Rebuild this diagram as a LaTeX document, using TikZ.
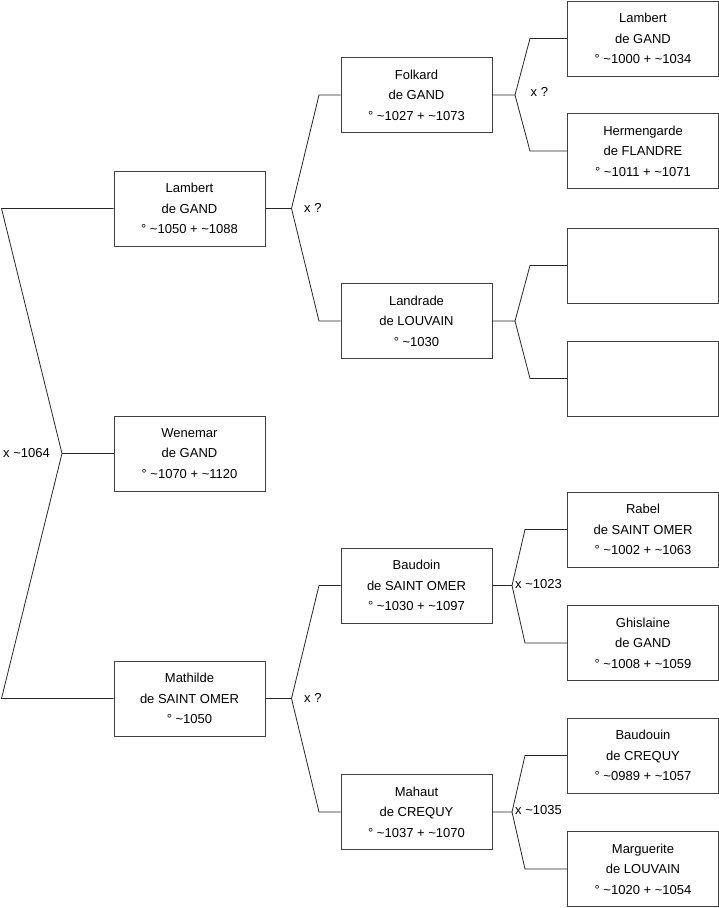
\documentclass[tikz,border=0pt]{standalone}
\usepackage{fontspec}
\setmainfont{Liberation Sans}
\begin{document}
\begin{tikzpicture}[x=1pt,y=-1pt,
  person/.style={draw=black!75,line width=0.8pt,minimum width=151pt,minimum height=75pt,
    align=center,inner sep=0pt,font=\fontsize{13}{20.5}\selectfont},
  link/.style={draw=black!85,line width=0.8pt},
  lbl/.style={anchor=west,inner sep=0pt,font=\fontsize{13}{15}\selectfont}]
\useasboundingbox (0,0) rectangle (719,908);
% column 1
\node[person] (lg) at (189.5,208.5) {Lambert\\de GAND\\° \textasciitilde1050 + \textasciitilde1088};
\node[person] (wg) at (189.5,453.5) {Wenemar\\de GAND\\° \textasciitilde1070 + \textasciitilde1120};
\node[person] (ms) at (189.5,698.5) {Mathilde\\de SAINT OMER\\° \textasciitilde1050};
% column 2
\node[person] (fg) at (416.5,95) {Folkard\\de GAND\\° \textasciitilde1027 + \textasciitilde1073};
\node[person] (ll) at (416.5,321) {Landrade\\de LOUVAIN\\° \textasciitilde1030};
\node[person] (bs) at (416.5,585.5) {Baudoin\\de SAINT OMER\\° \textasciitilde1030 + \textasciitilde1097};
\node[person] (mc) at (416.5,812) {Mahaut\\de CREQUY\\° \textasciitilde1037 + \textasciitilde1070};
% column 3
\node[person] (lg2) at (643,38.5) {Lambert\\de GAND\\° \textasciitilde1000 + \textasciitilde1034};
\node[person] (hf) at (643,151) {Hermengarde\\de FLANDRE\\° \textasciitilde1011 + \textasciitilde1071};
\node[person] (e1) at (643,265.5) {};
\node[person] (e2) at (643,378.5) {};
\node[person] (rs) at (643,529.5) {Rabel\\de SAINT OMER\\° \textasciitilde1002 + \textasciitilde1063};
\node[person] (gg) at (643,643) {Ghislaine\\de GAND\\° \textasciitilde1008 + \textasciitilde1059};
\node[person] (bc) at (643,755.5) {Baudouin\\de CREQUY\\° \textasciitilde0989 + \textasciitilde1057};
\node[person] (ml) at (643,869) {Marguerite\\de LOUVAIN\\° \textasciitilde1020 + \textasciitilde1054};
% root connector
\coordinate (r1) at (1.5,208.5);
\coordinate (r2) at (62,453.5);
\coordinate (r3) at (1.5,698.5);
\draw[link] (lg.west) -- (r1) -- (r2) -- (r3) -- (ms.west);
\draw[link] (r2) -- (wg.west);
\node[lbl] (l0) at (3,453) {x \textasciitilde1064};
% Lambert -> Folkard / Landrade
\coordinate (a1) at (291.5,208.5);
\draw[link] (lg.east) -- (a1) -- (319,95) -- (fg.west);
\draw[link] (a1) -- (319,321) -- (ll.west);
\node[lbl] (l1) at (304,207.5) {x ?};
% Mathilde -> Baudoin / Mahaut
\coordinate (a2) at (291.5,698.5);
\draw[link] (ms.east) -- (a2) -- (319,585.5) -- (bs.west);
\draw[link] (a2) -- (319,812) -- (mc.west);
\node[lbl] (l2) at (304,698) {x ?};
% Folkard -> Lambert / Hermengarde
\coordinate (a3) at (515,95);
\draw[link] (fg.east) -- (a3) -- (530,38.5) -- (lg2.west);
\draw[link] (a3) -- (530,151) -- (hf.west);
\node[lbl] (l3) at (530.5,92) {x ?};
% Landrade -> empties
\coordinate (a4) at (515,321);
\draw[link] (ll.east) -- (a4) -- (530,265.5) -- (e1.west);
\draw[link] (a4) -- (530,378.5) -- (e2.west);
% Baudoin -> Rabel / Ghislaine
\coordinate (a5) at (512,585.5);
\draw[link] (bs.east) -- (a5) -- (525,529.5) -- (rs.west);
\draw[link] (a5) -- (525,643) -- (gg.west);
\node[lbl] (l4) at (515,584) {x \textasciitilde1023};
% Mahaut -> Baudouin / Marguerite
\coordinate (a6) at (512,812);
\draw[link] (mc.east) -- (a6) -- (525,755.5) -- (bc.west);
\draw[link] (a6) -- (525,869) -- (ml.west);
\node[lbl] (l5) at (515,810) {x \textasciitilde1035};
\end{tikzpicture}
\end{document}
